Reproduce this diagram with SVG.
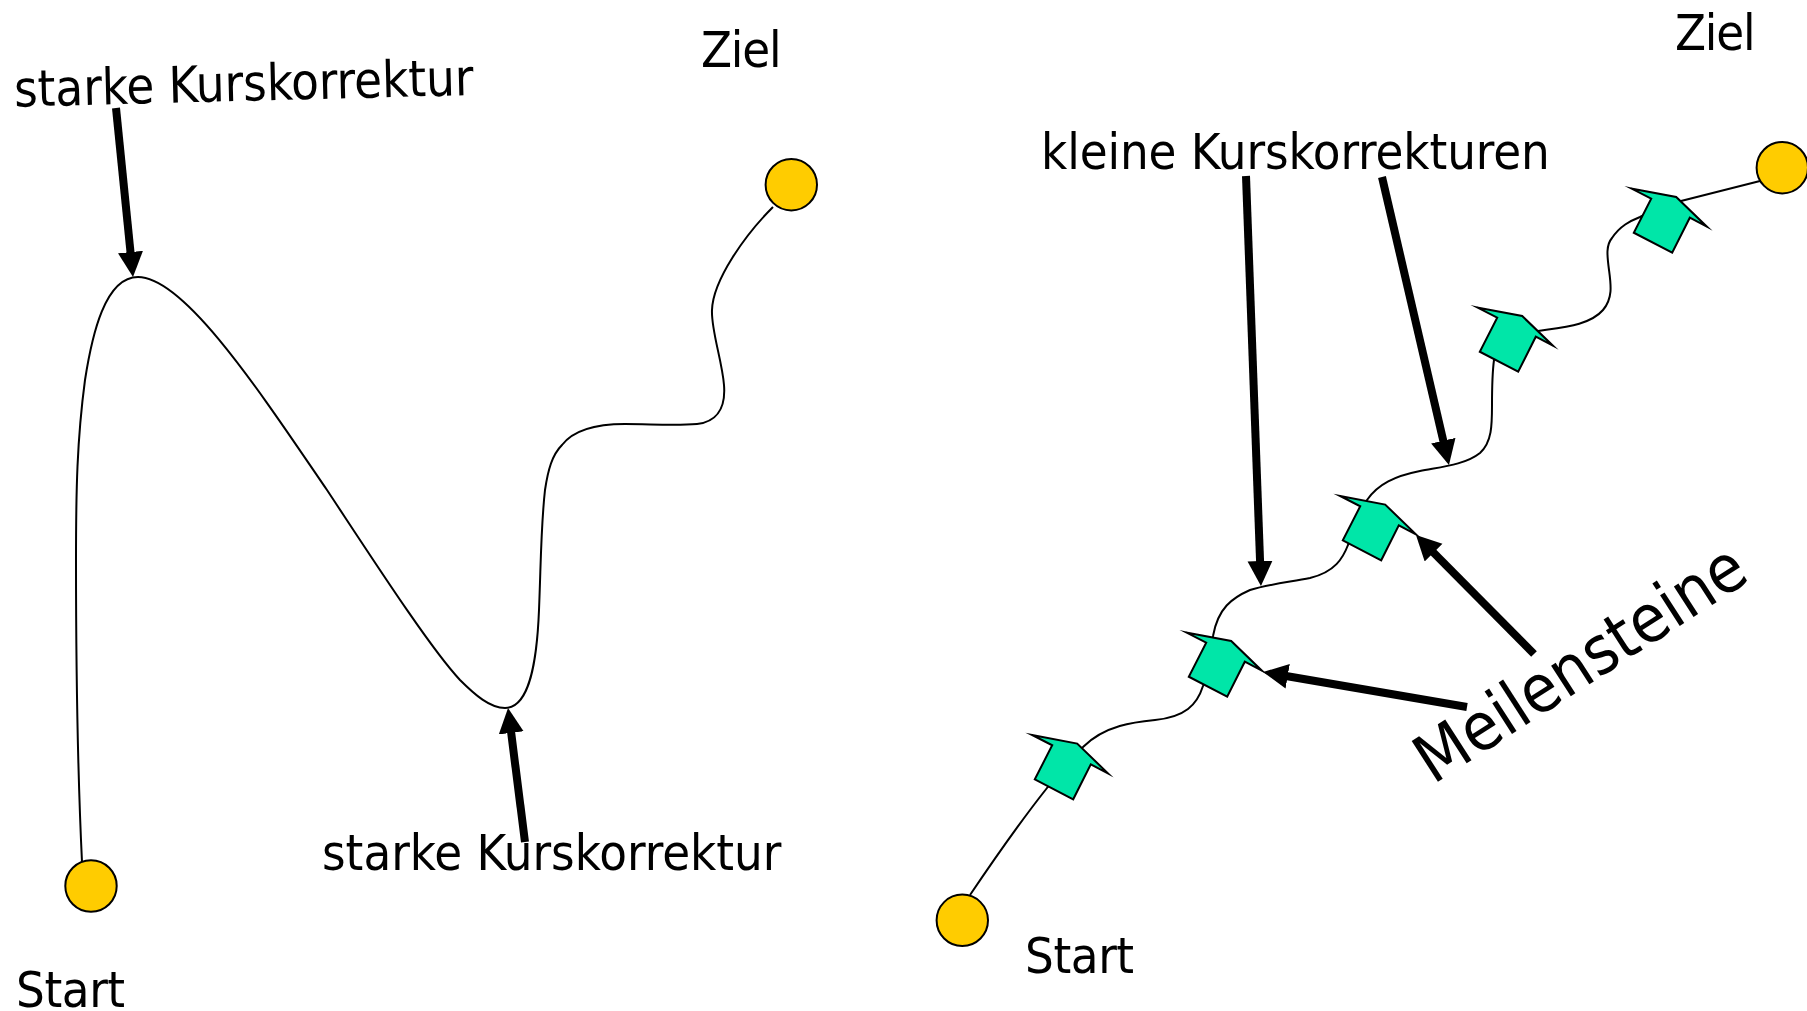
<svg xmlns="http://www.w3.org/2000/svg" width="1807" height="1011" viewBox="0 0 1807 1011">
<style>
.bg{fill:#fff}
.path{fill:none;stroke:#000;stroke-width:2}
.arrow{fill:none;stroke:#000;stroke-width:8;marker-end:url(#head)}
.dot{fill:#ffcc00;stroke:#000;stroke-width:2}
.stone{fill:#00e6a8;stroke:#000;stroke-width:2;stroke-linejoin:miter;stroke-miterlimit:10}
text{font-family:"DejaVu Sans Condensed","DejaVu Sans",sans-serif;font-size:50.4px;fill:#000;font-stretch:condensed}
.tight{letter-spacing:-1.2px}
.tight2{letter-spacing:-0.4px}
</style>
<defs>
<marker id="head" markerUnits="userSpaceOnUse" markerWidth="26" markerHeight="26" refX="15" refY="12.5" orient="auto"><path d="M0,0L25,12.5L0,25Z" fill="#000"/></marker>
<polygon id="stoneShape" points="4.6,1.7 49.7,10.3 80.4,40 63.3,31 45.7,66 7.3,46 24.7,12"/>
</defs>
<rect class="bg" width="1807" height="1011"/>
<g id="connectors">
<path class="path" d="M82,862C79,800 76,680 76,560C76,490 77,440 85,380C92,335 105,277 138,277C185,277 262,395 327,490C372,558 430,648 460,680C475,695 490,708 505,708C530,708 537,660 539,610C541,560 541,525 545,490C548,470 552,455 562,445C575,428 600,424 625,424C650,424 675,426 697,424C715,422 726,410 724,385C722,360 711,330 712,310C713,280 745,235 773,207"/>
<path class="path" d="M970,895C995,858 1020,822 1047,788C1060,772 1072,757 1083,747C1105,725 1135,722 1155,720C1185,717 1197,705 1203,686C1207,672 1209,655 1213,636C1218,608 1232,598 1250,590C1270,584 1290,582 1310,578C1335,572 1343,558 1348,545C1355,528 1360,510 1367,500C1378,484 1395,476 1420,471C1440,467 1465,465 1480,453C1492,442 1492,425 1492,405C1492,385 1492,375 1494,360C1497,345 1515,335 1538,331C1565,327 1590,325 1603,310C1613,298 1611,285 1609,270C1607,255 1606,245 1612,238C1620,226 1630,221 1640,217C1655,209 1670,204 1681,201L1760,181"/>
<line class="arrow" x1="116" y1="108" x2="132" y2="267"/>
<line class="arrow" x1="525" y1="842" x2="509.3" y2="718"/>
<line class="arrow" x1="1246" y1="176" x2="1260.6" y2="576"/>
<line class="arrow" x1="1382" y1="177" x2="1446.7" y2="455.3"/>
<line class="arrow" x1="1467" y1="707" x2="1272.9" y2="673.7"/>
<line class="arrow" x1="1534" y1="654" x2="1423" y2="542"/>
</g>
<g id="start-a"><circle class="dot" cx="91" cy="886" r="25.7"/><text x="16" y="1007" class="tight2">Start</text></g>
<g id="ziel-a"><circle class="dot" cx="791.3" cy="184.7" r="25.7"/><text x="701" y="67" class="tight">Ziel</text></g>
<g id="start-b"><circle class="dot" cx="962.3" cy="920.3" r="25.7"/><text x="1025" y="973" class="tight2">Start</text></g>
<g id="ziel-b"><circle class="dot" cx="1782.3" cy="167.7" r="25.7"/><text x="1675" y="50" class="tight">Ziel</text></g>
<g id="m1"><use href="#stoneShape" class="stone" x="1027.5" y="733.3"/></g>
<g id="m2"><use href="#stoneShape" class="stone" x="1181.5" y="630.7"/></g>
<g id="m3"><use href="#stoneShape" class="stone" x="1335.5" y="494.3"/></g>
<g id="m4"><use href="#stoneShape" class="stone" x="1472.5" y="305.7"/></g>
<g id="m5"><use href="#stoneShape" class="stone" x="1626.5" y="186.7"/></g>
<g id="label-a1"><text transform="translate(14.5,106.7) rotate(-1.47)">starke Kurskorrektur</text></g>
<g id="label-a2"><text x="322" y="870">starke Kurskorrektur</text></g>
<g id="label-b1"><text x="1041" y="168.5" style="letter-spacing:-0.1px">kleine Kurskorrekturen</text></g>
<g id="label-b2"><text transform="translate(1433,785) rotate(-32.8)" style="font-size:66.5px">Meilensteine</text></g>
</svg>
